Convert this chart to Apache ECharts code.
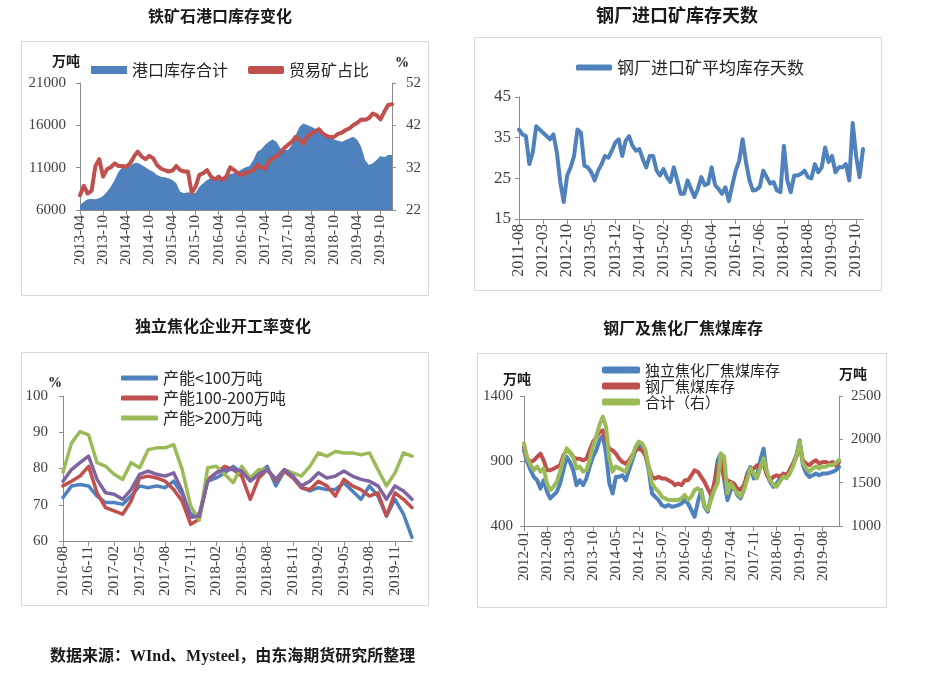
<!DOCTYPE html>
<html>
<head>
<meta charset="utf-8">
<script src="https://cdn.jsdelivr.net/npm/echarts@6/dist/echarts.min.js"></script>
<style>
  html, body { margin: 0; padding: 0; background: #fff; }
  #main { width: 944px; height: 680px; }
</style>
</head>
<body>
<div id="main"></div>
<script>
// 月份类目
function monthList(y, m, n) {
    var out = [];
    for (var k = 0; k < n; k++) {
        var mm = (m - 1 + k) % 12 + 1;
        var yy = y + Math.floor((m - 1 + k) / 12);
        out.push(yy + '-' + (mm < 10 ? '0' + mm : mm));
    }
    return out;
}

// 图1 铁矿石港口库存变化 2013-04 ~ 2020-01
var portMonths = monthList(2013, 4, 82);
var portStock = [6590,6980,7260,7300,7260,7380,7650,8160,8760,9540,
    10530,11040,11040,11200,11510,11590,11310,11040,10720,10530,
    10130,9940,9860,9740,9540,9150,8160,7970,8090,7970,
    8050,8760,9150,9540,9740,9940,9740,9860,10130,10250,
    10330,10530,10800,11040,11200,11900,12890,13160,13680,14070,
    14340,14070,13280,13080,13080,13680,14860,15840,16230,16040,
    15840,15640,15520,15250,14930,14660,14340,14190,14070,14270,
    14460,14660,14270,13480,11900,11310,11510,11900,12380,12220,
    12490,12490];
var tradeShare = [25.5,27.7,25.9,26.5,32.4,34.0,29.9,31.6,32.1,33.0,
    32.4,32.4,32.2,33.0,34.6,35.8,34.6,34.0,34.8,34.2,
    32.6,31.8,31.4,31.1,31.3,32.4,31.4,31.1,31.1,26.1,
    27.5,30.3,30.7,31.4,29.9,29.2,29.9,29.1,29.9,32.1,
    31.4,30.7,30.3,30.7,31.1,31.4,32.6,32.1,31.8,33.4,
    34.2,34.6,35.5,36.6,37.4,38.1,39.3,38.5,37.7,39.3,
    40.1,40.5,41.1,40.1,39.5,39.2,39.3,40.0,40.3,40.9,
    41.3,42.1,42.6,43.4,43.3,43.7,44.8,44.4,43.4,45.2,
    46.8,47.0];

// 图2 钢厂进口矿平均库存天数 2011-08 ~ 2019-12
var daysMonths = monthList(2011, 8, 101);
var stockDays = [37.0,35.8,35.4,28.5,31.4,37.8,37.0,36.2,35.4,34.6,
    35.8,31.4,24.1,19.2,25.7,27.7,30.5,37.0,36.2,28.1,
    27.7,26.5,24.5,26.9,28.5,30.5,30.1,31.8,33.8,34.6,
    30.5,34.2,35.4,33.0,31.8,32.2,29.7,27.7,30.5,30.5,
    26.9,25.7,27.3,25.3,24.1,27.7,24.5,21.2,21.2,24.5,
    22.4,20.4,22.4,25.3,23.3,23.7,27.7,23.3,22.4,21.2,
    22.8,19.4,23.3,26.9,29.3,34.6,28.9,24.5,22.0,22.2,
    22.9,26.9,25.3,23.7,24.1,22.0,21.6,33.0,24.5,21.6,
    25.7,25.7,26.1,26.9,25.3,25.0,28.5,26.5,27.7,32.6,
    29.0,30.5,26.5,27.7,27.7,28.5,24.5,38.6,30.5,25.3,
    32.2];

// 图3 独立焦化企业开工率 2016-08 ~ 2020-01
var cokeMonths = monthList(2016, 8, 42);
var rateSmall = [72.0,75.2,75.6,75.2,72.4,70.6,70.6,70.1,72.4,75.2,
    74.7,75.2,74.7,76.5,72.9,67.4,67.4,76.5,77.4,78.8,
    80.6,78.8,77.0,78.8,80.6,75.2,79.3,77.9,74.7,73.8,
    74.7,74.2,74.2,76.1,73.8,71.5,75.2,72.4,66.9,71.5,
    67.4,61.0];
var rateMid = [75.2,76.5,77.9,80.6,73.3,69.2,68.3,67.4,71.0,77.4,
    77.9,77.4,76.5,74.2,71.0,64.6,66.0,77.0,78.8,80.6,
    79.7,77.9,71.5,77.4,79.7,76.5,79.3,77.4,74.7,74.2,
    76.5,75.2,72.4,77.0,75.2,74.2,72.4,73.3,66.9,73.3,
    71.5,69.2];
var rateLarge = [79.0,87.0,90.2,89.3,81.6,80.6,78.4,77.0,81.6,80.2,
    85.2,85.7,85.7,86.6,79.7,69.7,65.7,80.2,80.6,78.4,
    76.1,80.6,77.4,79.7,79.7,77.0,79.7,78.8,77.9,80.6,
    84.3,83.4,84.7,84.3,84.3,83.8,84.3,79.7,75.2,78.8,
    84.3,83.4];
var rateAll = [76.5,79.7,81.6,83.4,77.0,73.3,72.9,71.5,74.2,78.4,
    79.3,78.4,77.9,78.8,73.8,66.5,66.9,76.5,78.8,79.7,
    79.7,79.3,76.5,78.4,79.7,77.0,79.7,77.9,75.2,76.5,
    78.8,77.4,77.9,79.3,77.9,77.0,76.5,75.2,71.5,75.2,
    73.8,71.5];

// 图4 钢厂及焦化厂焦煤库存 2012-01 ~ 2020-01
var coalMonths = monthList(2012, 1, 97);
var coalCoker = [982,892,829,778,752,688,752,663,612,637,
    663,727,829,931,892,829,714,752,714,765,
    854,931,982,1058,1096,956,727,650,778,778,
    790,752,829,905,982,1033,994,956,829,650,
    624,599,561,548,561,548,553,561,573,599,
    573,522,471,586,676,548,510,624,727,905,
    956,752,599,676,701,637,612,676,803,854,
    765,790,905,994,803,739,701,727,765,778,
    778,829,880,943,1058,867,803,778,790,803,
    790,803,803,808,816,829,854];
var coalMill = [1007,918,892,905,931,956,905,829,829,841,
    854,867,943,982,969,931,918,918,905,918,
    982,1045,1084,1122,1135,1058,994,982,956,918,
    892,880,905,943,982,994,982,943,854,778,
    765,778,765,765,752,739,714,727,714,752,
    752,790,829,816,778,739,688,637,727,854,
    918,765,752,739,727,688,676,714,790,816,
    841,867,854,880,790,752,778,790,778,803,
    790,829,880,931,1033,905,880,867,892,905,
    880,892,892,880,892,867,892];
var coalTotal = [1954,1781,1704,1646,1685,1627,1665,1492,1415,1454,
    1512,1627,1781,1896,1858,1800,1665,1685,1627,1646,
    1762,1915,2031,2165,2262,2146,1781,1627,1685,1665,
    1646,1627,1723,1800,1915,1973,1954,1877,1685,1492,
    1435,1396,1338,1319,1300,1300,1300,1300,1319,1358,
    1300,1338,1415,1435,1396,1242,1185,1300,1415,1492,
    1838,1800,1377,1492,1435,1377,1338,1415,1531,1665,
    1608,1550,1665,1781,1627,1531,1473,1454,1512,1569,
    1550,1608,1685,1800,1973,1723,1665,1627,1665,1685,
    1665,1685,1685,1704,1704,1723,1762];

var BLUE = '#4f81bd', RED = '#c0504d', GREEN = '#9bbb59', PURPLE = '#8064a2';
var AXIS = '#8c8c8c';
var SERIF = '"Liberation Serif", "DejaVu Serif", serif';
var CJK = '"Noto Sans CJK SC", sans-serif';

function xCat(idx, data, every, size) {
    return {
        type: 'category', gridIndex: idx, data: data, boundaryGap: false,
        axisLine: { lineStyle: { color: AXIS } },
        axisTick: { interval: every, length: 5, lineStyle: { color: AXIS } },
        axisLabel: { interval: every, rotate: 90, margin: 5, fontFamily: SERIF, fontSize: size, color: '#404040' }
    };
}
function yVal(idx, min, max, step, pos, size, margin) {
    return {
        type: 'value', gridIndex: idx, min: min, max: max, interval: step, position: pos,
        splitLine: { show: false },
        axisLine: { show: true, lineStyle: { color: AXIS } },
        axisTick: { show: true, length: 4, lineStyle: { color: AXIS } },
        axisLabel: { fontFamily: SERIF, fontSize: size, color: '#404040', margin: margin,
            formatter: function (v) { return String(v); } }
    };
}
function line(name, x, y, data, color, width) {
    return {
        name: name, type: 'line', xAxisIndex: x, yAxisIndex: y, data: data,
        showSymbol: false, symbol: 'none', color: color,
        lineStyle: { width: width, color: color, cap: 'round', join: 'round' }
    };
}
function legendStyle(size) {
    return { fontFamily: CJK, fontSize: size, color: '#262626', lineHeight: 16 };
}
function box(x, y, w, h) {
    return { type: 'rect', silent: true, z: -1, shape: { x: x + 0.5, y: y + 0.5, width: w, height: h },
        style: { fill: 'none', stroke: '#d9d9d9', lineWidth: 1 } };
}
function label(x, y, text, font, align) {
    return { type: 'text', x: x, y: y, silent: true,
        style: { text: text, font: font, fill: '#1a1a1a', textAlign: align || 'center', align: align || 'center',
            textVerticalAlign: 'middle', verticalAlign: 'middle' } };
}

var chart = echarts.init(document.getElementById('main'));
var option = {
    animation: false,
    backgroundColor: '#fff',
    grid: [
        { left: 80, top: 83, width: 312, height: 127 },
        { left: 519, top: 97, width: 344, height: 122 },
        { left: 63, top: 396, width: 349, height: 145 },
        { left: 524, top: 396, width: 315, height: 130 }
    ],
    xAxis: [
        xCat(0, portMonths, 5, 15),
        xCat(1, daysMonths, 6, 16),
        xCat(2, cokeMonths, 2, 15),
        xCat(3, coalMonths, 6, 15)
    ],
    yAxis: [
        yVal(0, 6000, 21000, 5000, 'left', 15, 14),
        yVal(0, 22, 52, 10, 'right', 15, 14),
        yVal(1, 15, 45, 10, 'left', 17, 8),
        yVal(2, 60, 100, 10, 'left', 15, 15),
        yVal(3, 400, 1400, 500, 'left', 15, 11),
        yVal(3, 1000, 2500, 500, 'right', 15, 12)
    ],
    legend: [
        { left: 86, top: 57, itemWidth: 36, itemHeight: 8, itemGap: 20, textStyle: legendStyle(16),
          data: [{ name: '港口库存合计', icon: 'rect' }, { name: '贸易矿占比', icon: 'roundRect' }] },
        { left: 571, top: 54, itemWidth: 36, itemHeight: 6, textStyle: legendStyle(17),
          data: [{ name: '钢厂进口矿平均库存天数', icon: 'roundRect' }] },
        { left: 116, top: 365, orient: 'vertical', itemWidth: 37, itemHeight: 5, itemGap: 4, textStyle: legendStyle(16),
          data: [{ name: '产能<100万吨', icon: 'roundRect' }, { name: '产能100-200万吨', icon: 'roundRect' },
                 { name: '产能>200万吨', icon: 'roundRect' }] },
        { left: 597, top: 357, orient: 'vertical', itemWidth: 38, itemHeight: 7, itemGap: 0, textStyle: legendStyle(15),
          data: [{ name: '独立焦化厂焦煤库存', icon: 'roundRect' }, { name: '钢厂焦煤库存', icon: 'roundRect' },
                 { name: '合计（右）', icon: 'roundRect' }] }
    ],
    series: [
        {
            name: '港口库存合计', type: 'line', xAxisIndex: 0, yAxisIndex: 0, data: portStock,
            showSymbol: false, symbol: 'none', color: BLUE,
            lineStyle: { width: 0 }, areaStyle: { color: BLUE, opacity: 1 }
        },
        line('贸易矿占比', 0, 1, tradeShare, RED, 4),
        line('钢厂进口矿平均库存天数', 1, 2, stockDays, BLUE, 4),
        line('产能<100万吨', 2, 3, rateSmall, BLUE, 3.5),
        line('产能100-200万吨', 2, 3, rateMid, RED, 3.5),
        line('产能>200万吨', 2, 3, rateLarge, GREEN, 3.5),
        line('全部样本', 2, 3, rateAll, PURPLE, 3.5),
        line('独立焦化厂焦煤库存', 3, 4, coalCoker, BLUE, 4),
        line('钢厂焦煤库存', 3, 4, coalMill, RED, 4),
        line('合计（右）', 3, 5, coalTotal, GREEN, 4)
    ],
    graphic: [
        box(21, 41, 407, 254),
        box(474, 37, 407, 253),
        box(21, 352, 407, 253),
        box(477, 353, 409, 254),
        label(220, 16, '铁矿石港口库存变化', 'bold 16px ' + CJK),
        label(677, 15, '钢厂进口矿库存天数', 'bold 18px ' + CJK),
        label(223, 326, '独立焦化企业开工率变化', 'bold 16px ' + CJK),
        label(683, 328, '钢厂及焦化厂焦煤库存', 'bold 16px ' + CJK),
        label(66, 61, '万吨', 'bold 14px ' + CJK),
        label(402, 63, '%', 'bold 14px ' + SERIF),
        label(55, 383, '%', 'bold 14px ' + SERIF),
        label(517, 379, '万吨', 'bold 14px ' + CJK),
        label(853, 374, '万吨', 'bold 14px ' + CJK),
        label(50, 657, '数据来源：WInd、Mysteel，由东海期货研究所整理', 'bold 16px ' + SERIF + ', ' + CJK, 'left')
    ]
};
chart.setOption(option);
</script>
</body>
</html>
